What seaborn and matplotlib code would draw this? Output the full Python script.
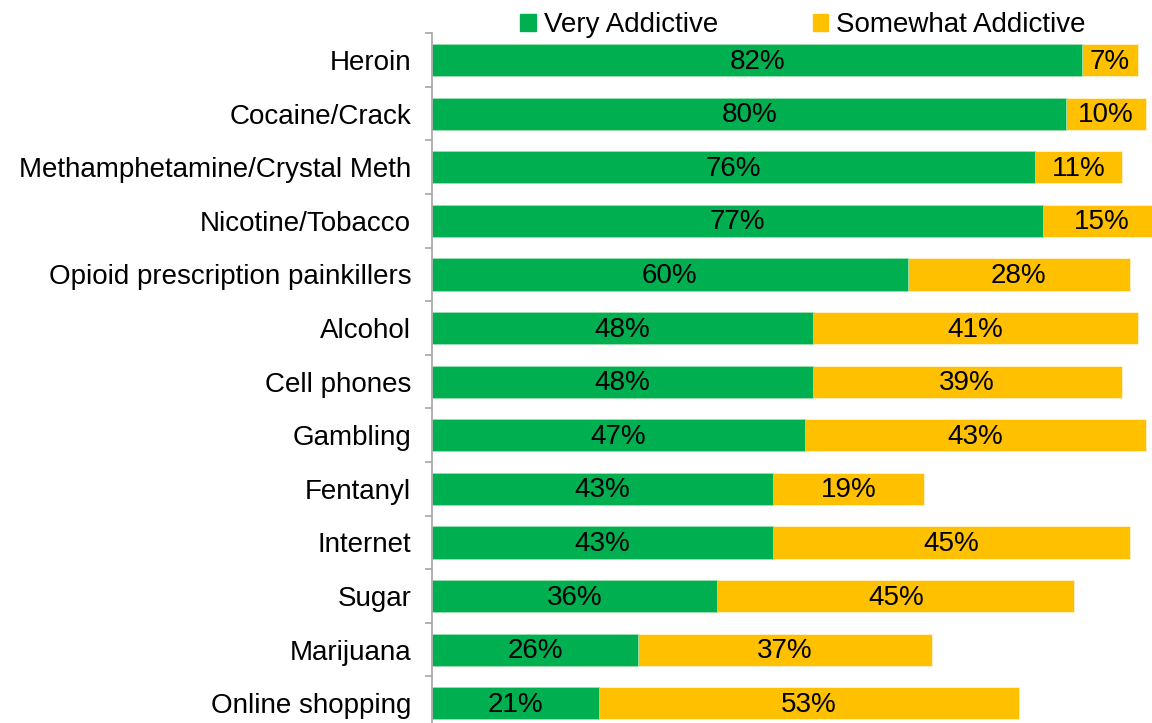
import pandas as pd
import matplotlib
matplotlib.use("Agg")
import matplotlib.pyplot as plt
import seaborn as sns
from matplotlib.patches import Patch

# Data
items = ["Heroin", "Cocaine/Crack", "Methamphetamine/Crystal Meth", "Nicotine/Tobacco",
         "Opioid prescription painkillers", "Alcohol", "Cell phones", "Gambling",
         "Fentanyl", "Internet", "Sugar", "Marijuana", "Online shopping"]
very = [82, 80, 76, 77, 60, 48, 48, 47, 43, 43, 36, 26, 21]
somewhat = [7, 10, 11, 15, 28, 41, 39, 43, 19, 45, 45, 37, 53]

df = pd.DataFrame({"item": items, "very": very, "somewhat": somewhat})
df["total"] = df["very"] + df["somewhat"]

green = "#00B050"
yellow = "#FFC000"

sns.set_style("white")
plt.rcParams["font.family"] = ["Liberation Sans", "DejaVu Sans"]
plt.rcParams["text.color"] = "black"
plt.rcParams["ytick.color"] = "black"
plt.rcParams["ytick.labelcolor"] = "black"

fig = plt.figure(figsize=(11.52, 7.23), dpi=100)
ax = fig.add_axes([0.375, -0.0097, 0.625, 0.9637])

# stacked: total in yellow, then green on top
sns.barplot(data=df, x="total", y="item", color=yellow, width=0.6,
            edgecolor="#fff2cc", linewidth=0.6, saturation=1, ax=ax)
sns.barplot(data=df, x="very", y="item", color=green, width=0.6,
            edgecolor="#9fe0b8", linewidth=0.6, saturation=1, ax=ax)

for i, row in df.iterrows():
    ax.text(row["very"] / 2, i + 0.03, f"{row['very']}%", ha="center", va="center",
            fontsize=20, color="black")
    ax.text(row["very"] + row["somewhat"] / 2, i + 0.03, f"{row['somewhat']}%",
            ha="center", va="center", fontsize=20, color="black")

ax.set_xlim(0, 90.8)
ax.set_ylim(len(items) - 0.5, -0.5)
ax.set_xlabel("")
ax.set_ylabel("")
ax.set_xticks([])
ax.tick_params(axis="y", which="major", length=0, labelsize=20, pad=15,
               labelcolor="black")
ax.set_yticks([i - 0.5 for i in range(len(items) + 1)], minor=True)
ax.tick_params(axis="y", which="minor", left=True, length=5, color="#a6a6a6", width=1.2)
for s in ["top", "right", "bottom"]:
    ax.spines[s].set_visible(False)
ax.spines["left"].set_color("#a6a6a6")
ax.spines["left"].set_linewidth(1.2)

handles = [Patch(color=green, label="Very Addictive"),
           Patch(color=yellow, label="Somewhat Addictive")]
fig.legend(handles=handles, loc="upper center", bbox_to_anchor=(0.697, 1.018), ncol=2,
           frameon=False, fontsize=20, handlelength=0.55, handleheight=0.55,
           handletextpad=0.3, columnspacing=3.4)

fig.savefig("out.png", dpi=100)
